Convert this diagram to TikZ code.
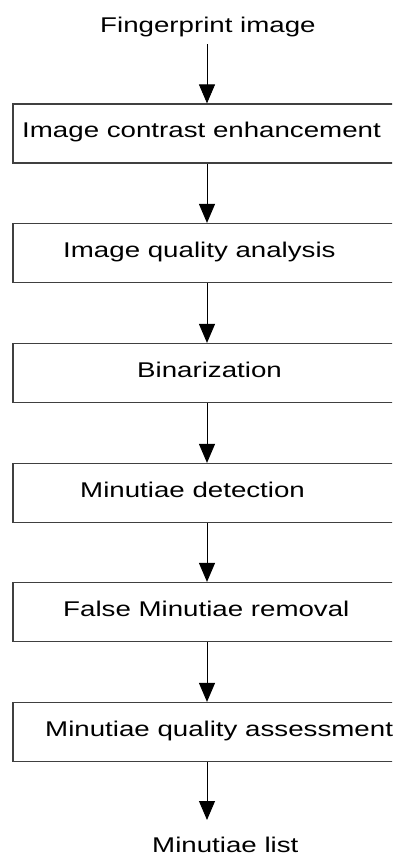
\documentclass[tikz,border=0pt]{standalone}
\usepackage{fontspec}
\setmainfont{Liberation Sans}[FakeStretch=1.3]
\usetikzlibrary{arrows.meta}
\tikzset{
  box/.style={draw=black!75, line width=1.2pt, minimum width=388pt, minimum height=59pt, inner sep=0pt},
  txt/.style={anchor=base west, inner sep=0pt, font=\fontsize{21.3}{25}\selectfont},
  flow/.style={draw=black, line width=0.9pt, -{Triangle[width=16pt,length=19pt]}}
}
\begin{document}
\begin{tikzpicture}[x=1pt,y=-1pt]
\useasboundingbox (0,0) rectangle (392,862);
\clip (0,0) rectangle (392,862);
\fill[white] (0,0) rectangle (392,862);
% boxes
\node[box] (b1) at (207,133.5) {};
\node[box] (b2) at (207,253) {};
\node[box] (b3) at (207,373) {};
\node[box] (b4) at (207,493) {};
\node[box] (b5) at (207,612) {};
\node[box] (b6) at (207,732) {};
% texts
\node[txt] (in) at (100,32) {Fingerprint image};
\node[txt] (t1) at (22,137.5) {Image contrast enhancement};
\node[txt] (t2) at (63,257) {Image quality analysis};
\node[txt] (t3) at (137,377) {Binarization};
\node[txt] (t4) at (80,497) {Minutiae detection};
\node[txt] (t5) at (63,616) {False Minutiae removal};
\node[txt] (t6) at (45,736) {Minutiae quality assessment};
\node[txt] (out) at (152,852) {Minutiae list};
% connector ends
\coordinate (s0) at (207,44);
\coordinate (e0) at (207,820);
% arrows
\draw[flow] (s0) -- (b1.north);
\draw[flow] (b1.south) -- (b2.north);
\draw[flow] (b2.south) -- (b3.north);
\draw[flow] (b3.south) -- (b4.north);
\draw[flow] (b4.south) -- (b5.north);
\draw[flow] (b5.south) -- (b6.north);
\draw[flow] (b6.south) -- (e0);
\end{tikzpicture}
\end{document}
